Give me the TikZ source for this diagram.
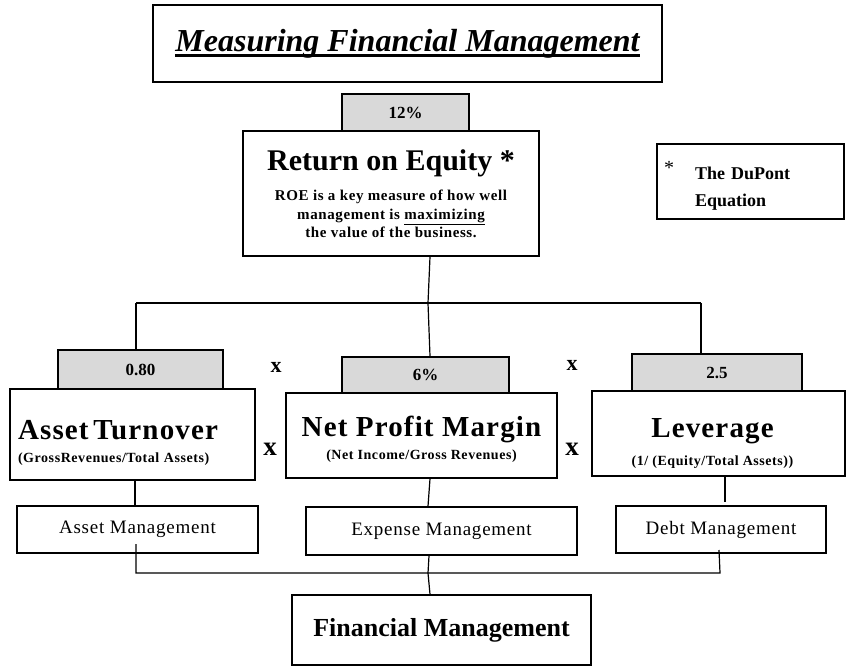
\documentclass[tikz,border=0pt]{standalone}
\usepackage{fontspec}
\setmainfont{Liberation Serif}
\newfontfamily\spaced[LetterSpace=4]{Liberation Serif}
\usetikzlibrary{positioning}
\newcommand{\heavyul}[1]{\setbox0\hbox{#1}\rlap{\vrule height -3pt depth 5.5pt width \wd0}\box0}

\begin{document}
\begin{tikzpicture}[
    x=1pt, y=-1pt,
    thick,
    font=\bfseries
]
\tikzset{
    mybox/.style = {draw=black, line width=1.5pt, align=center, inner sep=0pt, fill=white},
    mypct/.style = {mybox, fill=gray!30, font=\bfseries\fontsize{17}{19}\selectfont},
    mymgmt/.style = {mybox, font=\spaced\mdseries\fontsize{19}{21}\selectfont},
    myratio/.style = {mybox, font=\spaced\bfseries\fontsize{14}{20}\selectfont},
    mytimes/.style = {font=\bfseries\fontsize{22}{24}\selectfont}, 
    edgen/.style = {-, line width=1.2pt}
}
\newcommand{\bigname}[1]{{\spaced\bfseries\fontsize{29}{29}\selectfont #1}}
\useasboundingbox (0,0) rectangle (854,668);
% title
\node[mybox, minimum width=509pt, minimum height=77pt, font=\bfseries\itshape\fontsize{32}{36}\selectfont] at (407.5,43.5) (title) {\heavyul{Measuring Financial Management}};
% return on equity
\node[mypct, minimum width=127pt, minimum height=37pt] at (405.5,112.5) (roep) {12\%};
\node[mybox, minimum width=296pt, minimum height=125pt, font=\spaced\bfseries\fontsize{15}{18.5}\selectfont] at (391,193.5) (roe) {{\rmfamily\fontsize{30}{30}\selectfont Return on Equity *}\\[12pt]
ROE is a key measure of how well\\ management is \underline{maximizing}\\ the value of the business.};
\node[mybox, minimum width=187pt, minimum height=75pt, text width=111pt, align=left, font=\bfseries\fontsize{18}{27}\selectfont] at (750.5,181.5) (dupont) {\llap{\raisebox{5pt}{\mdseries\fontsize{20}{20}\selectfont *}\hspace{21pt}}\rule{0pt}{26pt}The DuPont\\Equation};
% the three ratios
\node[mypct, minimum width=165pt, minimum height=39pt] at (140.5,369.5) (atp) {0.80};
\node[myratio, minimum width=245pt, minimum height=91pt, text width=229pt, align=left] at (132.5,434.5) (at) {\rule{0pt}{36pt}\bigname{Asset Turnover}\\[3pt](GrossRevenues/Total Assets)};
\node[mypct, minimum width=167pt, minimum height=36pt] at (425.5,375) (npmp) {6\%};
\node[myratio, minimum width=271pt, minimum height=85pt] at (421.5,435.5) (npm) {\rule{0pt}{28pt}\bigname{Net Profit Margin}\\[3pt](Net Income/Gross Revenues)};
\node[mypct, minimum width=170pt, minimum height=37pt] at (717,372.5) (levp) {2.5};
\node[myratio, minimum width=253pt, minimum height=85pt] at (718.5,433.5) (lev) {\rule{0pt}{40pt}\bigname{Leverage}\hspace*{12pt}\\[8pt](1/ (Equity/Total Assets))\hspace*{12pt}};
\node[mytimes] at (276,367) (x1) {x};
\node[mytimes] at (572,365) (x2) {x};
\node[mytimes, font=\bfseries\fontsize{27}{27}\selectfont] at (270,449) (x3) {x};
\node[mytimes, font=\bfseries\fontsize{27}{27}\selectfont] at (572,449) (x4) {x};
% management areas
\node[mymgmt, minimum width=241pt, minimum height=47pt] at (137.5,529.5) (am) {Asset Management};
\node[mymgmt, minimum width=271pt, minimum height=48pt] at (441.5,531) (em) {Expense Management};
\node[mymgmt, minimum width=210pt, minimum height=47pt] at (721,529.5) (dm) {Debt Management};
\node[mybox, minimum width=299pt, minimum height=70pt, font=\bfseries\fontsize{26}{28}\selectfont] at (441.5,630) (fm) {Financial Management};
% connectors
\coordinate (jtop) at (428,303);
\coordinate (jl) at (136,303);
\coordinate (jr) at (701,303);
\coordinate (jbot) at (428,573);
\coordinate (bl) at (136,573);
\coordinate (br) at (720,573);
\coordinate (levend) at (725,502);
\draw[edgen] (roe.south -| 430,0) -- (jtop);
\draw[edgen] (jl) -- (jr);
\draw[edgen] (jl) -- (atp.north -| jl);
\draw[edgen] (jtop) -- (npmp.north -| 430,0);
\draw[edgen] (jr) -- (levp.north -| jr);
\draw[edgen] (at.south -| 135,0) -- (am.north -| 135,0);
\draw[edgen] (npm.south -| 430,0) -- (em.north -| 428,0);
\draw[edgen] (lev.south -| levend) -- (levend);
\draw[edgen] (136,544) -- (bl) -- (br) -- (719,550);
\draw[edgen] (em.south -| 429,0) -- (jbot) -- (fm.north -| 430,0);
\end{tikzpicture}
\end{document}
